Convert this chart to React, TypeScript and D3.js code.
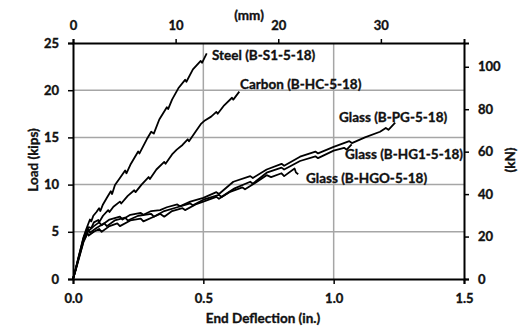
import React, { useRef, useEffect } from 'react';
import * as d3 from 'd3';

// deflection (in.), load (kips)
const steel: [number, number][] = [
  [0, 0], [0.01, 1.0], [0.02, 2.2], [0.03, 3.3], [0.04, 4.4], [0.05, 5.2], [0.058, 5.8],
  [0.065, 6.3], [0.07, 6.1], [0.078, 6.7], [0.09, 7.1], [0.1, 7.5], [0.105, 7.2], [0.115, 7.9],
  [0.13, 8.6], [0.145, 9.3], [0.15, 9.0], [0.161, 9.96], [0.18, 10.7], [0.2, 11.5], [0.205, 11.2],
  [0.22, 12.1], [0.25, 13.5], [0.255, 13.3], [0.283, 14.8], [0.3, 15.6], [0.31, 15.4], [0.331, 16.9],
  [0.36, 18.2], [0.365, 18.0], [0.38, 19.0], [0.404, 20.2], [0.43, 21.1], [0.435, 20.9], [0.46, 22.2],
  [0.49, 23.1], [0.495, 22.9], [0.513, 23.9],
];
const carbon: [number, number][] = [
  [0, 0], [0.01, 1.0], [0.02, 2.1], [0.03, 3.2], [0.04, 4.3], [0.05, 5.0], [0.06, 5.5], [0.07, 5.4],
  [0.08, 6.0], [0.097, 6.25], [0.1, 6.0], [0.115, 6.7], [0.135, 7.3], [0.14, 7.1], [0.155, 7.66],
  [0.18, 8.2], [0.185, 8.0], [0.21, 8.8], [0.235, 9.4], [0.24, 9.2], [0.263, 10.0], [0.29, 10.8],
  [0.295, 10.6], [0.32, 11.6], [0.35, 12.4], [0.355, 12.2], [0.38, 13.2], [0.398, 13.7], [0.42, 14.2],
  [0.44, 14.8], [0.445, 14.6], [0.47, 15.6], [0.49, 16.4], [0.506, 16.8], [0.53, 17.2], [0.55, 17.7],
  [0.555, 17.5], [0.58, 18.4], [0.61, 19.2], [0.615, 19.0], [0.638, 19.85],
];
const glassPG: [number, number][] = [
  [0, 0], [0.01, 1.0], [0.02, 2.1], [0.03, 3.1], [0.04, 4.2], [0.05, 5.0], [0.055, 5.4], [0.06, 5.1],
  [0.08, 5.6], [0.1, 6.0], [0.11, 5.7], [0.14, 6.3], [0.18, 6.6], [0.19, 6.3], [0.22, 6.8], [0.26, 7.0],
  [0.27, 6.8], [0.3, 7.2], [0.334, 7.3], [0.36, 7.6], [0.4, 7.9], [0.41, 7.7], [0.45, 8.2], [0.5, 8.6],
  [0.55, 9.2], [0.56, 9.0], [0.615, 10.3], [0.68, 10.9], [0.69, 10.7], [0.743, 11.6], [0.8, 12.2],
  [0.81, 12.0], [0.871, 12.96], [0.93, 13.5], [0.94, 13.3], [1.0, 14.0], [1.06, 14.6], [1.07, 14.4],
  [1.12, 15.0], [1.178, 15.6], [1.2, 16.0], [1.21, 15.8], [1.236, 16.56],
];
const glassHG1: [number, number][] = [
  [0, 0], [0.01, 1.0], [0.02, 2.0], [0.03, 3.0], [0.04, 4.0], [0.05, 4.6], [0.06, 5.2], [0.065, 4.9],
  [0.09, 5.4], [0.12, 5.9], [0.13, 5.6], [0.16, 6.2], [0.2, 6.5], [0.21, 6.2], [0.25, 6.7], [0.3, 6.9],
  [0.31, 6.6], [0.35, 7.2], [0.4, 7.6], [0.45, 8.0], [0.46, 7.8], [0.5, 8.4], [0.56, 8.9], [0.57, 8.7],
  [0.62, 9.6], [0.68, 10.3], [0.69, 10.1], [0.743, 11.26], [0.8, 11.8], [0.81, 11.6], [0.871, 12.5],
  [0.93, 13.0], [0.94, 12.8], [1.0, 13.6], [1.04, 13.9], [1.05, 13.7], [1.069, 14.27],
];
const glassHGO: [number, number][] = [
  [0, 0], [0.01, 0.9], [0.02, 1.9], [0.03, 2.9], [0.04, 3.9], [0.05, 4.5], [0.055, 4.9], [0.06, 4.6],
  [0.08, 5.0], [0.1, 5.3], [0.11, 5.0], [0.14, 5.6], [0.17, 5.9], [0.18, 5.6], [0.22, 6.2], [0.26, 6.4],
  [0.27, 6.1], [0.31, 6.6], [0.334, 6.9], [0.35, 6.6], [0.38, 7.2], [0.42, 7.5], [0.43, 7.3], [0.47, 7.9],
  [0.5, 8.2], [0.55, 8.7], [0.56, 8.5], [0.6, 9.2], [0.65, 9.7], [0.66, 9.5], [0.7, 10.2], [0.743, 11.0],
  [0.76, 10.8], [0.8, 11.2], [0.81, 10.9], [0.85, 11.7], [0.855, 11.3], [0.864, 11.1],
];

const seriesNames = ['Steel (B-S1-5-18)', 'Carbon (B-HC-5-18)', 'Glass (B-PG-5-18)', 'Glass (B-HG1-5-18)', 'Glass (B-HGO-5-18)'];
const allSeries = [steel, carbon, glassPG, glassHG1, glassHGO];

const inchTicks = [0, 0.5, 1.0, 1.5];
const kipTicks = [0, 5, 10, 15, 20, 25];
const mmTicks = [0, 10, 20, 30];
const kNTicks = [0, 20, 40, 60, 80, 100];

const KIP_TO_KN = 4.448;
const IN_TO_MM = 25.4;

const App = () => {
  const ref = useRef<SVGSVGElement>(null);

  useEffect(() => {
    const width = 532;
    const height = 330;
    const m = { left: 73, right: 68, top: 43, bottom: 51 };
    const font = 'Lato, sans-serif';

    const svg = d3.select(ref.current);
    svg.selectAll('*').remove();

    const x = d3.scaleLinear().domain([0, 1.5]).range([m.left, width - m.right]);
    const y = d3.scaleLinear().domain([0, 25]).range([height - m.bottom, m.top]);
    const xMm = d3.scaleLinear().domain([0, 1.5 * IN_TO_MM]).range(x.range());
    const yKn = d3.scaleLinear().domain([0, 25 * KIP_TO_KN]).range(y.range());

    // bold text, a little heavier like the original
    const boldText = (sel: any, size: number) =>
      sel.attr('font-family', font)
        .attr('font-weight', 'bold')
        .attr('font-size', size)
        .attr('fill', '#111')
        .attr('stroke', '#111')
        .attr('stroke-width', 0.35);

    // grid
    const grid = svg.append('g').attr('stroke', '#a6a6a6').attr('stroke-width', 1.5);
    grid.selectAll('line.h')
      .data(kipTicks.filter(d => d > 0 && d < 25))
      .enter().append('line')
      .attr('x1', x(0)).attr('x2', x(1.5))
      .attr('y1', d => y(d)).attr('y2', d => y(d));
    grid.selectAll('line.v')
      .data(inchTicks.filter(d => d > 0 && d < 1.5))
      .enter().append('line')
      .attr('x1', d => x(d)).attr('x2', d => x(d))
      .attr('y1', y(0)).attr('y2', y(25));

    const styleAxis = (g: any) => {
      g.select('.domain').attr('stroke', '#000').attr('stroke-width', 2);
      g.selectAll('.tick line').attr('stroke', '#000').attr('stroke-width', 1.5);
      boldText(g.selectAll('text'), 13);
    };

    svg.append('g')
      .attr('transform', `translate(0,${y(0)})`)
      .call(d3.axisBottom(x).tickValues(inchTicks).tickFormat(d3.format('.1f')).tickSizeOuter(0).tickSize(5).tickPadding(10))
      .call(styleAxis);
    svg.append('g')
      .attr('transform', `translate(${x(0)},0)`)
      .call(d3.axisLeft(y).tickValues(kipTicks).tickSizeOuter(0).tickSize(5).tickPadding(9))
      .call(styleAxis);
    svg.append('g')
      .attr('transform', `translate(0,${y(25)})`)
      .call(d3.axisTop(xMm).tickValues(mmTicks).tickSizeOuter(0).tickSize(4).tickPadding(9))
      .call(styleAxis);
    svg.append('g')
      .attr('transform', `translate(${x(1.5)},0)`)
      .call(d3.axisRight(yKn).tickValues(kNTicks).tickSizeOuter(0).tickSize(5).tickPadding(9))
      .call(styleAxis);

    // curves
    const line = d3.line<[number, number]>().x(d => x(d[0])).y(d => y(d[1]));
    svg.append('g')
      .selectAll('path')
      .data(allSeries)
      .enter().append('path')
      .attr('d', d => line(d))
      .attr('fill', 'none')
      .attr('stroke', '#000')
      .attr('stroke-width', 1.8)
      .attr('stroke-linejoin', 'round');

    // series labels
    const labelPos = [[212, 55], [240, 84], [339, 117], [345, 154], [306, 178]];
    svg.append('g')
      .selectAll('text')
      .data(seriesNames)
      .enter().append('text')
      .attr('x', (d, i) => labelPos[i][0])
      .attr('y', (d, i) => labelPos[i][1])
      .attr('dy', '0.35em')
      .call(boldText, 13.5)
      .text(d => d);

    const title = (t: string, tx: number, ty: number, rot = 0) =>
      svg.append('text')
        .attr('transform', `translate(${tx},${ty}) rotate(${rot})`)
        .attr('text-anchor', 'middle')
        .attr('dy', '0.35em')
        .call(boldText, 13.5)
        .text(t);

    title('End Deflection (in.)', 263, 318);
    title('Load (kips)', 33, 160, -90);
    title('(mm)', 249, 15);
    title('(kN)', 510, 160, -90);
  }, []);

  return (
    <svg
      ref={ref}
      width={532}
      height={330}
      style={{ position: 'absolute', left: 0, top: 0, background: '#fff' }}
    />
  );
};

export default App;
